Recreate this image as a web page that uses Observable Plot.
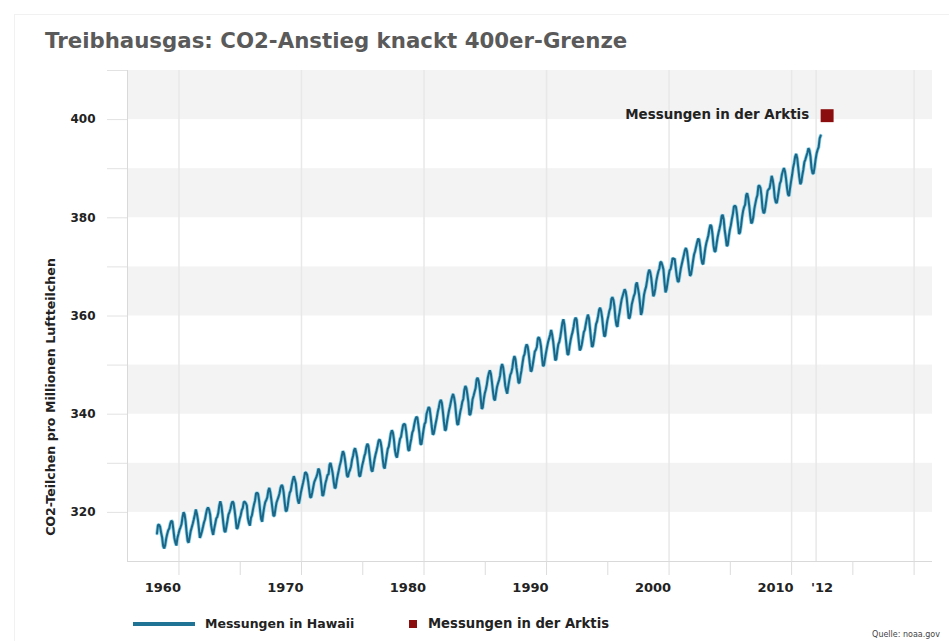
<!DOCTYPE html>
<html>
<head>
<meta charset="utf-8">
<script src="https://cdn.jsdelivr.net/npm/d3@7"></script>
<script src="https://cdn.jsdelivr.net/npm/@observablehq/plot@0.6"></script>
<style>
  html, body { margin: 0; padding: 0; background: #fff; }
  #wrap { position: relative; width: 949px; height: 641px; overflow: hidden;
          font-family: "DejaVu Sans", Verdana, sans-serif; }
  #card { position: absolute; left: 14px; top: 14px; right: 0; bottom: 0;
          border-top: 1px solid #f1f1f1; border-left: 1px solid #f1f1f1; }
  #chart { position: absolute; left: 0; top: 0; }
  #title { position: absolute; left: 45px; top: 28px; font-size: 21.3px; font-weight: bold;
           color: #5a5a5a; white-space: nowrap; }
  #ytitle { position: absolute; left: 50px; top: 397px; font-size: 12.6px; font-weight: bold;
            color: #222; white-space: nowrap; transform: translate(-50%, -50%) rotate(-90deg); }
  .leg { position: absolute; font-size: 12.5px; font-weight: bold; color: #222; white-space: nowrap;
         top: 616px; }
  .swatch-line { position: absolute; left: 133px; top: 622px; width: 62px; height: 4px; background: #1f7394; }
  .swatch-box { position: absolute; left: 409px; top: 620px; width: 8px; height: 8px; background: #8b0d0d; }
  #source { position: absolute; right: 9px; top: 630px; font-size: 8px; color: #444; white-space: nowrap; }
</style>
</head>
<body>
<div id="wrap">
  <div id="card"></div>
  <div id="chart"></div>
  <div id="title">Treibhausgas: CO2-Anstieg knackt 400er-Grenze</div>
  <div id="ytitle">CO2-Teilchen pro Millionen Luftteilchen</div>
  <div class="swatch-line"></div>
  <div class="leg" style="left:205px">Messungen in Hawaii</div>
  <div class="swatch-box"></div>
  <div class="leg" style="left:428px; font-size:13.2px">Messungen in der Arktis</div>
  <div id="source">Quelle: noaa.gov</div>
</div>
<script>
// Monthly CO2 means at Mauna Loa, Hawaii (ppm), March 1958 – May 2012
const co2_1958_1959 = [
  315.71, 317.45, 317.50, 317.10, 315.86, 314.93, 313.20, 312.66, 313.33, 314.67,
  315.62, 316.38, 316.71, 317.72, 318.29, 318.15, 316.54, 314.80, 313.84, 313.26, 314.80, 315.58
];
const co2_1960s = [
  316.43, 316.97, 317.58, 319.02, 320.03, 319.59, 318.18, 315.91, 314.16, 313.83, 315.00, 316.19,
  316.93, 317.70, 318.54, 319.48, 320.58, 319.77, 318.57, 316.79, 314.80, 315.38, 316.10, 317.01,
  317.94, 318.56, 319.68, 320.63, 321.01, 320.55, 319.58, 317.40, 316.26, 315.42, 316.69, 317.69,
  318.74, 319.08, 319.86, 321.39, 322.25, 321.47, 319.74, 317.77, 316.21, 315.99, 317.12, 318.31,
  319.57, 320.07, 320.73, 321.77, 322.25, 321.89, 320.44, 318.70, 316.70, 316.79, 317.79, 318.71,
  319.44, 320.44, 320.89, 322.13, 322.16, 321.87, 321.39, 318.81, 317.81, 317.30, 318.87, 319.42,
  320.62, 321.59, 322.39, 323.87, 324.01, 323.75, 322.39, 320.37, 318.64, 318.10, 319.79, 321.08,
  322.07, 322.50, 323.04, 324.42, 325.00, 324.09, 322.55, 320.92, 319.31, 319.31, 320.72, 321.96,
  322.57, 323.15, 323.89, 325.02, 325.57, 325.36, 324.14, 322.11, 320.33, 320.25, 321.32, 322.90,
  324.00, 324.42, 325.64, 326.66, 327.38, 326.70, 325.89, 323.67, 322.38, 321.78, 322.85, 324.12
];
const co2_1970s = [
  325.06, 325.98, 326.93, 328.13, 328.07, 327.66, 326.35, 324.69, 323.10, 323.07, 324.01, 325.13,
  326.17, 326.68, 327.18, 327.78, 328.92, 328.57, 327.34, 325.46, 323.36, 323.57, 324.80, 326.01,
  326.77, 327.63, 327.75, 329.72, 330.07, 329.09, 328.05, 326.32, 324.93, 325.06, 326.50, 327.55,
  328.54, 329.56, 330.30, 331.50, 332.48, 332.07, 330.87, 329.31, 327.51, 327.18, 328.16, 328.64,
  329.35, 330.71, 331.48, 332.65, 333.09, 332.25, 331.18, 329.40, 327.44, 327.37, 328.46, 329.58,
  330.40, 331.40, 332.04, 333.31, 333.96, 333.59, 331.91, 330.06, 328.56, 328.34, 329.49, 330.76,
  331.75, 332.56, 333.50, 334.58, 334.87, 334.34, 333.05, 330.94, 329.30, 328.94, 330.31, 331.68,
  332.93, 333.42, 334.70, 336.07, 336.74, 336.27, 334.93, 332.75, 331.58, 331.16, 332.40, 333.85,
  334.97, 335.39, 336.64, 337.76, 338.01, 337.89, 336.54, 334.68, 332.76, 332.55, 333.92, 334.95,
  336.23, 336.76, 337.96, 338.89, 339.47, 339.29, 337.73, 336.09, 333.91, 333.86, 335.29, 336.73
];
const co2_1980s = [
  338.01, 338.36, 340.08, 340.77, 341.46, 341.17, 339.56, 337.60, 335.88, 336.01, 337.10, 338.21,
  339.24, 340.48, 341.38, 342.51, 342.91, 342.25, 340.49, 338.43, 336.69, 336.85, 338.36, 339.61,
  340.75, 341.61, 342.70, 343.56, 344.13, 343.35, 342.06, 339.82, 337.97, 337.86, 339.26, 340.49,
  341.38, 342.52, 343.10, 344.94, 345.75, 345.32, 343.99, 342.39, 339.86, 339.99, 341.16, 342.99,
  343.70, 344.50, 345.28, 347.06, 347.43, 346.80, 345.39, 343.28, 341.07, 341.35, 342.98, 344.22,
  344.97, 345.99, 347.42, 348.35, 348.93, 348.25, 346.56, 344.67, 343.09, 342.80, 344.24, 345.56,
  346.30, 346.95, 347.85, 349.55, 350.21, 349.54, 347.94, 345.91, 344.86, 344.17, 345.66, 346.90,
  348.02, 348.47, 349.42, 350.99, 351.84, 351.25, 349.52, 348.10, 346.44, 346.36, 347.81, 348.96,
  350.43, 351.72, 352.22, 353.59, 354.22, 353.79, 352.39, 350.44, 348.72, 348.88, 350.07, 351.34,
  352.76, 353.07, 353.68, 355.42, 355.67, 355.12, 353.90, 351.67, 349.80, 349.99, 351.30, 352.53
];
const co2_1990s = [
  353.66, 354.70, 355.39, 356.20, 357.16, 356.22, 354.82, 352.91, 350.96, 351.18, 352.83, 354.21,
  354.72, 355.75, 357.16, 358.60, 359.34, 358.24, 356.17, 354.03, 352.16, 352.21, 353.75, 354.99,
  355.99, 356.72, 357.81, 359.15, 359.66, 359.25, 357.02, 355.00, 353.01, 353.31, 354.16, 355.40,
  356.70, 357.17, 358.38, 359.46, 360.28, 359.60, 357.57, 355.52, 353.70, 353.98, 355.33, 356.80,
  358.36, 358.91, 359.97, 361.26, 361.68, 360.95, 359.55, 357.49, 355.84, 356.00, 357.59, 359.05,
  359.98, 361.03, 361.66, 363.48, 363.82, 363.30, 361.94, 359.50, 358.11, 357.80, 359.61, 360.74,
  362.09, 363.29, 364.06, 364.76, 365.45, 365.01, 363.70, 361.54, 359.51, 359.65, 360.80, 362.38,
  363.23, 364.06, 364.61, 366.40, 366.84, 365.68, 364.52, 362.57, 360.24, 360.83, 362.49, 364.34,
  365.27, 365.98, 367.24, 368.66, 369.42, 368.99, 367.82, 365.95, 364.02, 364.40, 365.52, 367.13,
  368.18, 369.07, 369.68, 370.99, 370.96, 370.30, 369.45, 366.90, 364.81, 365.37, 366.72, 368.10
];
const co2_2000s = [
  369.29, 369.55, 370.60, 371.82, 371.58, 371.70, 369.86, 368.13, 367.00, 367.03, 368.37, 369.67,
  370.59, 371.51, 372.43, 373.37, 373.85, 373.21, 371.51, 369.61, 368.18, 368.45, 369.76, 371.24,
  372.53, 373.20, 374.12, 375.02, 375.76, 375.52, 374.01, 371.85, 370.75, 370.55, 372.25, 373.79,
  374.88, 375.64, 376.45, 377.73, 378.60, 378.28, 376.70, 374.38, 373.17, 373.14, 374.66, 375.99,
  377.00, 377.87, 378.88, 380.35, 380.62, 379.69, 377.47, 376.01, 374.25, 374.46, 376.16, 377.51,
  378.46, 379.73, 380.77, 382.29, 382.45, 382.21, 380.74, 378.74, 376.70, 377.00, 378.35, 380.11,
  381.38, 382.19, 382.67, 384.61, 385.03, 384.05, 382.46, 380.41, 378.85, 379.13, 380.15, 381.82,
  382.89, 383.90, 384.58, 386.50, 386.56, 386.10, 384.50, 381.99, 380.96, 381.12, 382.45, 383.95,
  385.52, 385.82, 386.03, 387.21, 388.54, 387.76, 386.36, 384.09, 383.18, 382.99, 384.19, 385.56,
  386.94, 387.48, 388.82, 389.55, 390.14, 389.48, 388.03, 386.11, 384.74, 384.43, 386.02, 387.42
];
const co2_2010_2012 = [
  388.71, 390.20, 391.17, 392.46, 393.00, 392.15, 390.20, 388.35, 386.85, 387.24, 388.67, 389.79,
  391.33, 391.86, 392.60, 393.25, 394.19, 393.74, 392.51, 390.13, 389.08, 389.00, 390.28, 391.86,
  393.12, 393.86, 394.40, 396.18, 396.74
];

// First month of each block: [year, month (1-12)]
const blockStarts = [[1958, 3], [1960, 1], [1970, 1], [1980, 1], [1990, 1], [2000, 1], [2010, 1]];
const blocks = [co2_1958_1959, co2_1960s, co2_1970s, co2_1980s, co2_1990s, co2_2000s, co2_2010_2012];

// Arctic reading that crossed the 400 mark
const arcticYear = [2012.9];
const arcticValue = [400.8];
const arcticLabel = ["Messungen in der Arktis"];

// Axis ticks and labels
const yBandStarts = [320, 340, 360, 380, 400];
const yMinorTicks = [320, 330, 340, 350, 360, 370, 380, 390, 400, 410];
const yLabelTicks = [320, 340, 360, 380, 400];
const xGridYears = [1960, 1970, 1980, 1990, 2000, 2010, 2012, 2020];
const xMinorTicks = [1960, 1965, 1970, 1975, 1980, 1985, 1990, 1995, 2000, 2005, 2010, 2015, 2020];
const xLabelYears = [1960, 1970, 1980, 1990, 2000, 2010];
const xShortLabel = [2012];

// Monthly values -> decimal year (mid-month)
const hawaii = blocks.flatMap((vals, b) => {
  const [y0, m0] = blockStarts[b];
  return vals.map((v, i) => ({ year: y0 + (m0 - 1 + i + 0.5) / 12, co2: v }));
});
const arctic = arcticYear.map((y, i) => ({ year: y, co2: arcticValue[i], label: arcticLabel[i] }));

const xDomain = [1955.8, 2021.5];
const yDomain = [310, 410];
const font = "DejaVu Sans, Verdana, sans-serif";

const chart = Plot.plot({
  width: 949,
  height: 641,
  marginTop: 70,
  marginBottom: 80,
  marginLeft: 127,
  marginRight: 17,
  style: { fontFamily: font, background: "transparent", overflow: "visible" },
  x: { domain: xDomain },
  y: { domain: yDomain },
  marks: [
    // alternating horizontal bands
    Plot.rect(yBandStarts, { y1: d => d, y2: d => d + 10, fill: "#f3f3f3" }),
    // vertical grid
    Plot.ruleX(xGridYears, { stroke: "#e8e8e8", strokeWidth: 1.5 }),
    // axis lines
    Plot.ruleX([xDomain[0]], { stroke: "#d9d9d9" }),
    Plot.ruleY([yDomain[0]], { stroke: "#d9d9d9" }),
    // y ticks + labels
    Plot.axisY({ ticks: yMinorTicks, tickSize: 20, text: null, stroke: "#e2e2e2", label: null }),
    Plot.axisY({ ticks: yLabelTicks, tickSize: 0, tickPadding: 32, fontSize: 12, fontWeight: "bold",
                 fill: "#222", label: null }),
    // x ticks + labels
    Plot.axisX({ ticks: xMinorTicks, tickSize: 14, text: null, stroke: "#dcdcdc", label: null }),
    Plot.axisX({ ticks: xLabelYears, tickSize: 0, tickPadding: 21, tickFormat: d => String(d),
                 textAnchor: "end", dx: 2, fontSize: 13, fontWeight: "bold", fill: "#222", label: null }),
    Plot.axisX({ ticks: xShortLabel, tickSize: 0, tickPadding: 21, tickFormat: d => "'" + String(d).slice(2),
                 textAnchor: "middle", dx: 6, fontSize: 13, fontWeight: "bold", fill: "#222", label: null }),
    // Hawaii series: light halo under a darker core
    Plot.line(hawaii, { x: "year", y: "co2", stroke: "#8fd4ea", strokeWidth: 3.6, strokeLinejoin: "miter" }),
    Plot.line(hawaii, { x: "year", y: "co2", stroke: "#1b6586", strokeWidth: 2, strokeLinejoin: "miter" }),
    // Arctic marker
    Plot.dot(arctic, { x: "year", y: "co2", symbol: "square", r: 7.3, fill: "#8b0d0d" }),
    Plot.text(arctic, { x: "year", y: "co2", text: "label", textAnchor: "end", dx: -18, dy: -1,
                        fontSize: 13.4, fontWeight: "bold", fill: "#222" })
  ]
});

document.getElementById("chart").appendChild(chart);
</script>
</body>
</html>
